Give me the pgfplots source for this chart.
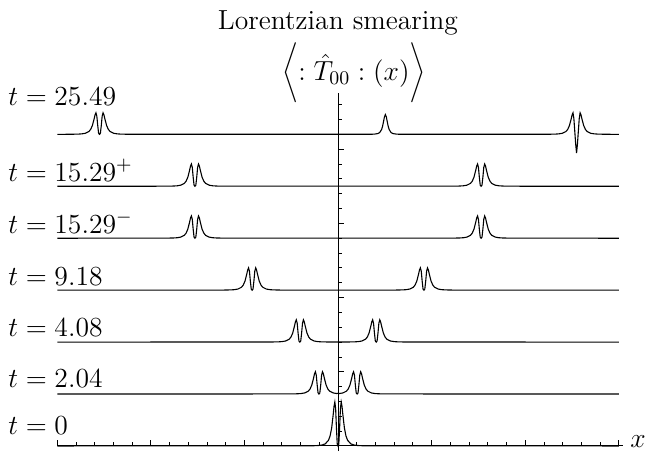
\RequirePackage{fix-cm}
\documentclass[border=0pt]{standalone}
\usepackage{fontspec}
\usepackage{pgfplots}
\pgfplotsset{compat=1.18}
\begin{document}
\begin{tikzpicture}[font=\fontsize{13.8}{16.6}\selectfont]
\useasboundingbox (-28.65pt,0pt) rectangle (297.35pt,225.5pt);
\begin{axis}[
  at={(0pt,0pt)}, anchor=south west,
  scale only axis, width=282.6pt, height=179.1pt,
  xmin=-15, xmax=15.2, ymin=-0.34, ymax=23.8,
  axis lines=middle, axis line style={-, line width=0.5pt},
  tick align=inside,
  xtick={-15,-10,...,15}, minor xtick={-14,-13,...,14},
  ytick={0,5,...,20}, minor ytick={1,2,...,23},
  xticklabels={}, yticklabels={},
  major tick length=3.2pt, minor tick length=1.8pt,
  every tick/.style={black, line width=0.4pt},
  clip=false,
]
% t = 0
\addplot[black, line width=0.55pt] coordinates {
 (-15,0) (-1.36,0.011) (-1.02,0.033) (-0.85,0.065) (-0.68,0.145) (-0.51,0.384)
 (-0.425,0.670) (-0.34,1.212) (-0.255,2.149) (-0.2125,2.682) (-0.17,2.96)
 (-0.1275,2.514) (-0.085,1.212) (-0.0425,0.145) (0,0)
 (0.0425,0.145) (0.085,1.212) (0.1275,2.514) (0.17,2.96) (0.2125,2.682)
 (0.255,2.149) (0.34,1.212) (0.425,0.670) (0.51,0.384) (0.68,0.145)
 (0.85,0.065) (1.02,0.033) (1.36,0.011) (15,0)
};
% t = 2.04
\addplot[black, line width=0.55pt] coordinates {
 (-15,3.5) (-2.54,3.506) (-2.16,3.517) (-1.97,3.533) (-1.78,3.574) (-1.59,3.694)
 (-1.495,3.839) (-1.40,4.114) (-1.305,4.589) (-1.2575,4.859) (-1.21,5.0)
 (-1.1625,4.774) (-1.115,4.114) (-1.0675,3.574) (-1.02,3.5) (-0.9725,3.574)
 (-0.925,4.114) (-0.8775,4.774) (-0.83,5.0) (-0.7825,4.859) (-0.735,4.589)
 (-0.64,4.114) (-0.545,3.839) (-0.45,3.694) (-0.26,3.574) (-0.07,3.533)
 (0,3.55)
 (0.07,3.533) (0.26,3.574) (0.45,3.694) (0.545,3.839) (0.64,4.114)
 (0.735,4.589) (0.7825,4.859) (0.83,5.0) (0.8775,4.774) (0.925,4.114)
 (0.9725,3.574) (1.02,3.5) (1.0675,3.574) (1.115,4.114) (1.1625,4.774)
 (1.21,5.0) (1.2575,4.859) (1.305,4.589) (1.40,4.114) (1.495,3.839)
 (1.59,3.694) (1.78,3.574) (1.97,3.533) (2.16,3.517) (2.54,3.506) (15,3.5)
};
% t = 4.08
\addplot[black, line width=0.55pt] coordinates {
 (-15,7) (-3.56,7.006) (-3.18,7.017) (-2.99,7.033) (-2.80,7.074) (-2.61,7.194)
 (-2.515,7.339) (-2.42,7.614) (-2.325,8.089) (-2.2775,8.359) (-2.23,8.5)
 (-2.1825,8.274) (-2.135,7.614) (-2.0875,7.074) (-2.04,7) (-1.9925,7.074)
 (-1.945,7.614) (-1.8975,8.274) (-1.85,8.5) (-1.8025,8.359) (-1.755,8.089)
 (-1.66,7.614) (-1.565,7.339) (-1.47,7.194) (-1.28,7.074) (-1.09,7.033)
 (-0.90,7.017) (-0.52,7.006)
 (0.52,7.006) (0.90,7.017) (1.09,7.033) (1.28,7.074) (1.47,7.194)
 (1.565,7.339) (1.66,7.614) (1.755,8.089) (1.8025,8.359) (1.85,8.5)
 (1.8975,8.274) (1.945,7.614) (1.9925,7.074) (2.04,7) (2.0875,7.074)
 (2.135,7.614) (2.1825,8.274) (2.23,8.5) (2.2775,8.359) (2.325,8.089)
 (2.42,7.614) (2.515,7.339) (2.61,7.194) (2.80,7.074) (2.99,7.033)
 (3.18,7.017) (3.56,7.006) (15,7)
};
% t = 9.18
\addplot[black, line width=0.55pt] coordinates {
 (-15,10.5) (-6.11,10.506) (-5.73,10.517) (-5.54,10.533) (-5.35,10.574) (-5.16,10.694)
 (-5.065,10.839) (-4.97,11.114) (-4.875,11.589) (-4.8275,11.859) (-4.78,12.0)
 (-4.7325,11.774) (-4.685,11.114) (-4.6375,10.574) (-4.59,10.5) (-4.5425,10.574)
 (-4.495,11.114) (-4.4475,11.774) (-4.40,12.0) (-4.3525,11.859) (-4.305,11.589)
 (-4.21,11.114) (-4.115,10.839) (-4.02,10.694) (-3.83,10.574) (-3.64,10.533)
 (-3.45,10.517) (-3.07,10.506)
 (3.07,10.506) (3.45,10.517) (3.64,10.533) (3.83,10.574) (4.02,10.694)
 (4.115,10.839) (4.21,11.114) (4.305,11.589) (4.3525,11.859) (4.40,12.0)
 (4.4475,11.774) (4.495,11.114) (4.5425,10.574) (4.59,10.5) (4.6375,10.574)
 (4.685,11.114) (4.7325,11.774) (4.78,12.0) (4.8275,11.859) (4.875,11.589)
 (4.97,11.114) (5.065,10.839) (5.16,10.694) (5.35,10.574) (5.54,10.533)
 (5.73,10.517) (6.11,10.506) (15,10.5)
};
% t = 15.29-
\addplot[black, line width=0.55pt] coordinates {
 (-15,14) (-9.165,14.006) (-8.785,14.017) (-8.595,14.033) (-8.405,14.074) (-8.215,14.194)
 (-8.12,14.339) (-8.025,14.614) (-7.93,15.089) (-7.8825,15.359) (-7.835,15.5)
 (-7.7875,15.274) (-7.74,14.614) (-7.6925,14.074) (-7.645,14) (-7.5975,14.074)
 (-7.55,14.614) (-7.5025,15.274) (-7.455,15.5) (-7.4075,15.359) (-7.36,15.089)
 (-7.265,14.614) (-7.17,14.339) (-7.075,14.194) (-6.885,14.074) (-6.695,14.033)
 (-6.505,14.017) (-6.125,14.006)
 (6.125,14.006) (6.505,14.017) (6.695,14.033) (6.885,14.074) (7.075,14.194)
 (7.17,14.339) (7.265,14.614) (7.36,15.089) (7.4075,15.359) (7.455,15.5)
 (7.5025,15.274) (7.55,14.614) (7.5975,14.074) (7.645,14) (7.6925,14.074)
 (7.74,14.614) (7.7875,15.274) (7.835,15.5) (7.8825,15.359) (7.93,15.089)
 (8.025,14.614) (8.12,14.339) (8.215,14.194) (8.405,14.074) (8.595,14.033)
 (8.785,14.017) (9.165,14.006) (15,14)
};
% t = 15.29+
\addplot[black, line width=0.55pt] coordinates {
 (-15,17.5) (-9.165,17.506) (-8.785,17.517) (-8.595,17.533) (-8.405,17.574) (-8.215,17.694)
 (-8.12,17.839) (-8.025,18.114) (-7.93,18.589) (-7.8825,18.859) (-7.835,19.0)
 (-7.7875,18.774) (-7.74,18.114) (-7.6925,17.574) (-7.645,17.5) (-7.5975,17.574)
 (-7.55,18.114) (-7.5025,18.774) (-7.455,19.0) (-7.4075,18.859) (-7.36,18.589)
 (-7.265,18.114) (-7.17,17.839) (-7.075,17.694) (-6.885,17.574) (-6.695,17.533)
 (-6.505,17.517) (-6.125,17.506)
 (6.125,17.506) (6.505,17.517) (6.695,17.533) (6.885,17.574) (7.075,17.694)
 (7.17,17.839) (7.265,18.114) (7.36,18.589) (7.4075,18.859) (7.455,19.0)
 (7.5025,18.774) (7.55,18.114) (7.5975,17.574) (7.645,17.5) (7.6925,17.574)
 (7.74,18.114) (7.7875,18.774) (7.835,19.0) (7.8825,18.859) (7.93,18.589)
 (8.025,18.114) (8.12,17.839) (8.215,17.694) (8.405,17.574) (8.595,17.533)
 (8.785,17.517) (9.165,17.506) (15,17.5)
};
% t = 25.49
\addplot[black, line width=0.55pt] coordinates {
 (-15,21) (-14.265,21.005) (-13.885,21.016) (-13.695,21.032) (-13.505,21.071) (-13.315,21.188)
 (-13.22,21.328) (-13.125,21.594) (-13.03,22.053) (-12.9825,22.314) (-12.935,22.45)
 (-12.8875,22.231) (-12.84,21.594) (-12.7925,21.071) (-12.745,21) (-12.6975,21.071)
 (-12.65,21.594) (-12.6025,22.231) (-12.555,22.45) (-12.5075,22.314) (-12.46,22.053)
 (-12.365,21.594) (-12.27,21.328) (-12.175,21.188) (-11.985,21.071) (-11.795,21.032)
 (-11.605,21.016) (-11.225,21.005)
 (1.73,21.005) (1.93,21.013) (2.13,21.053) (2.23,21.126) (2.33,21.333) (2.38,21.545)
 (2.43,21.851) (2.48,22.178) (2.53,22.33) (2.58,22.178) (2.63,21.851) (2.68,21.545)
 (2.73,21.333) (2.83,21.126) (2.93,21.053) (3.13,21.013) (3.33,21.005)
 (11.225,21.005) (11.605,21.016) (11.795,21.032) (11.985,21.071) (12.175,21.188)
 (12.27,21.328) (12.365,21.594) (12.46,22.053) (12.5075,22.314) (12.555,22.45)
 (12.6025,22.05) (12.65,21.2) (12.6975,20.35) (12.745,19.74) (12.7925,20.35)
 (12.84,21.2) (12.8875,22.05) (12.935,22.45) (12.9825,22.314) (13.03,22.053)
 (13.125,21.594) (13.22,21.328) (13.315,21.188) (13.505,21.071) (13.695,21.032)
 (13.885,21.016) (14.265,21.005) (15,21)
};
\end{axis}
\begin{scope}[x=0.5pt, y=-0.5pt, shift={(-28.65pt,225.5pt)}]
\node[anchor=base, inner sep=0pt] at (338,29) {Lorentzian smearing};
\node[anchor=base, inner sep=0pt] at (354,80)
  {$\Biggl\langle : \hat{T}_{00} : (x) \Biggr\rangle$};
\node[anchor=base west, inner sep=0pt] at (8,105) {$t = 25.49$};
\node[anchor=base west, inner sep=0pt] at (8,181) {$t = 15.29^{+}$};
\node[anchor=base west, inner sep=0pt] at (8,233) {$t = 15.29^{-}$};
\node[anchor=base west, inner sep=0pt] at (8,285) {$t = 9.18$};
\node[anchor=base west, inner sep=0pt] at (8,336) {$t = 4.08$};
\node[anchor=base west, inner sep=0pt] at (8,387) {$t = 2.04$};
\node[anchor=base west, inner sep=0pt] at (8,434) {$t = 0$};
\node[anchor=base west, inner sep=0pt] at (630,447) {$x$};
\end{scope}
\end{tikzpicture}
\end{document}
